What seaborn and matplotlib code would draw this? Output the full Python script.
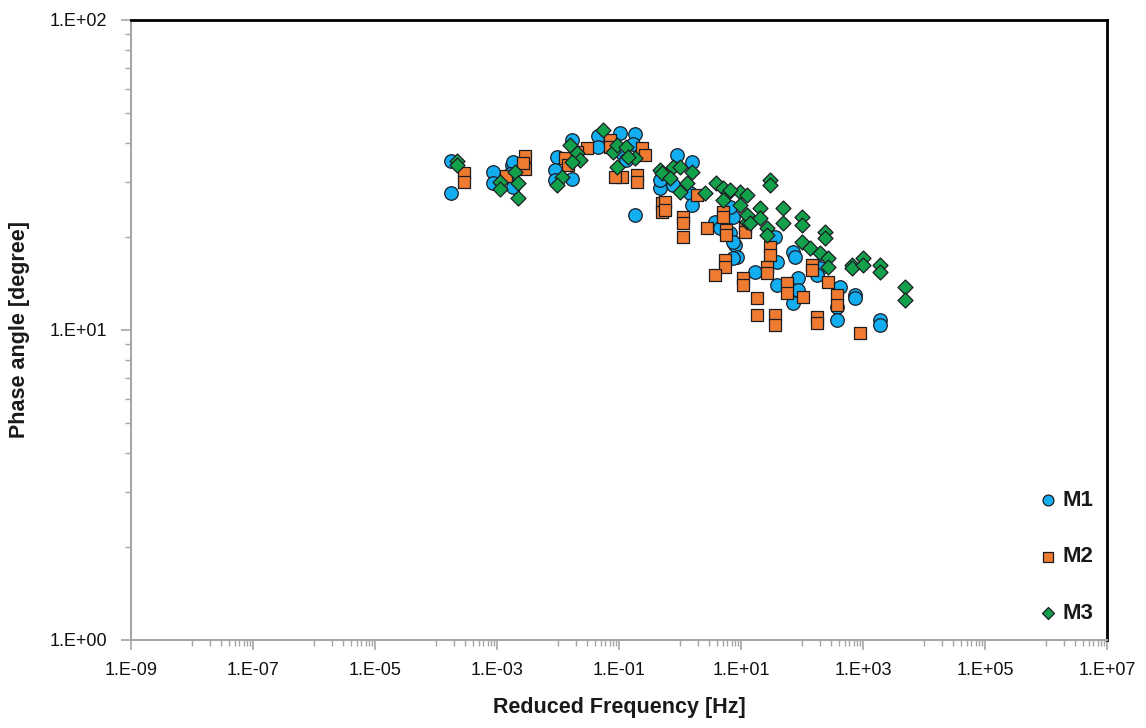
import numpy as np
import pandas as pd
import matplotlib
matplotlib.use("Agg")
import matplotlib.pyplot as plt
from matplotlib import font_manager
from matplotlib.ticker import FixedLocator, FuncFormatter, NullFormatter
import seaborn as sns

# ---------------- data ----------------
series_names = ["M1", "M2", "M3"]

m1_freq = [1.76e-4, 1.76e-4, 8.6e-4, 8.6e-4, 1.76e-3, 1.86e-3, 1.86e-3, 1.63e-3, 9.8e-3, 8.9e-3,
           8.9e-3, 1.70e-2, 1.70e-2, 4.5e-2, 4.5e-2, 0.104, 0.186, 0.170, 0.114, 0.128,
           0.186, 0.89, 1.58, 0.47, 0.76, 1.46, 1.58, 3.8, 4.5, 6.6,
           8.0, 8.6, 7.4, 7.4, 7.4, 6.6, 36, 38.9, 71, 77,
           17.0, 38.9, 85, 85, 71, 197, 178, 420, 380, 380,
           740, 1900, 1900, 740, 0.47]
m1_phase = [35.1, 27.7, 32.3, 29.8, 34.1, 34.8, 28.9, 31.9, 36.1, 32.8,
            30.5, 30.7, 41.0, 42.2, 38.9, 43.2, 42.8, 39.8, 37.2, 35.3,
            23.5, 36.7, 34.8, 28.7, 29.4, 27.7, 25.3, 22.3, 21.3, 20.6,
            18.8, 17.2, 19.2, 17.1, 23.2, 24.9, 19.9, 16.6, 17.9, 17.2,
            15.4, 14.0, 14.7, 13.5, 12.2, 15.8, 15.0, 13.8, 11.9, 10.8,
            13.0, 10.8, 10.4, 12.7, 30.5]

m2_freq = [2.9e-4, 2.9e-4, 1.43e-3, 2.93e-3, 2.93e-3, 2.67e-3, 1.30e-2, 1.46e-2, 2.99e-2, 2.05e-2,
           7.1e-2, 7.1e-2, 0.240, 0.267, 0.197, 0.197, 0.114, 8.6e-2, 0.51, 0.51,
           0.575, 0.575, 1.10, 1.10, 1.10, 1.90, 2.77, 5.0, 5.0, 5.75,
           5.75, 5.5, 5.5, 3.8, 11.6, 11.6, 29.9, 29.9, 26.7, 26.7,
           10.8, 10.8, 18.3, 18.3, 36, 36, 56.8, 56.8, 104, 146,
           146, 178, 178, 267, 380, 380, 893]
m2_phase = [32.1, 30.0, 31.4, 36.4, 33.1, 34.6, 35.9, 34.1, 38.6, 37.5,
            41.0, 38.9, 38.6, 36.7, 31.6, 30.0, 31.2, 31.2, 25.7, 24.0,
            25.9, 24.4, 23.2, 22.1, 19.9, 27.3, 21.3, 24.0, 23.2, 21.0,
            20.2, 16.8, 16.0, 15.0, 21.5, 20.7, 18.5, 17.5, 16.0, 15.3,
            14.7, 14.0, 12.7, 11.2, 11.2, 10.4, 14.2, 13.2, 12.8, 16.2,
            15.6, 11.0, 10.5, 14.3, 13.0, 12.0, 9.8]

m3_freq = [2.2e-4, 2.2e-4, 1.1e-3, 1.1e-3, 2.0e-3, 2.17e-3, 2.17e-3, 1.16e-2, 9.8e-3, 1.57e-2,
           2.05e-2, 2.30e-2, 1.70e-2, 5.5e-2, 7.9e-2, 9.4e-2, 9.4e-2, 0.128, 0.186, 0.141,
           0.47, 0.51, 0.76, 1.0, 1.58, 1.30, 1.0, 0.686, 2.57, 3.9,
           5.0, 6.1, 5.0, 9.6, 9.6, 12.6, 12.6, 6.6, 29.9, 29.9,
           12.6, 14.1, 20.5, 20.5, 26.7, 26.7, 48.9, 48.9, 100, 100,
           100, 135, 197, 238, 238, 267, 267, 661, 661, 1000,
           1000, 1900, 1900, 4890, 4890]
m3_phase = [35.1, 34.1, 30.0, 28.5, 32.3, 29.8, 26.7, 31.2, 29.4, 39.5,
            37.2, 35.3, 34.8, 44.2, 37.5, 39.5, 33.6, 38.9, 35.9, 36.1,
            32.8, 32.1, 33.6, 33.6, 32.3, 29.8, 27.9, 30.9, 27.7, 29.8,
            28.7, 27.7, 26.3, 27.9, 25.3, 27.3, 22.3, 28.3, 30.5, 29.4,
            23.5, 22.1, 24.8, 23.0, 21.3, 20.2, 24.8, 22.1, 23.2, 21.8,
            19.2, 18.4, 17.7, 20.7, 19.8, 17.1, 16.0, 16.2, 15.8, 17.1,
            16.2, 16.2, 15.4, 13.8, 12.5]

x_major_ticks = [1e-9, 1e-7, 1e-5, 1e-3, 1e-1, 1e1, 1e3, 1e5, 1e7]
y_major_ticks = [1, 10, 100]

# ---------------- styling ----------------
colors = {"M1": "#13AEEF", "M2": "#EE7B30", "M3": "#12A14A"}
markers = {"M1": "o", "M2": "s", "M3": "D"}
sizes = {"M1": 95, "M2": 72, "M3": 58}
edge = "#1c1c24"

sns.set_style("ticks")
available = {f.name for f in font_manager.fontManager.ttflist}
narrow = "Liberation Sans Narrow" if "Liberation Sans Narrow" in available else "Liberation Sans"
plt.rcParams["font.family"] = ["Liberation Sans", "DejaVu Sans"]

df = pd.concat([
    pd.DataFrame({"freq": m1_freq, "phase": m1_phase, "Series": "M1"}),
    pd.DataFrame({"freq": m2_freq, "phase": m2_phase, "Series": "M2"}),
    pd.DataFrame({"freq": m3_freq, "phase": m3_phase, "Series": "M3"}),
], ignore_index=True)

fig = plt.figure(figsize=(11.46, 7.28), dpi=100)
ax = fig.add_axes([131 / 1146, 1 - 640 / 728, 976 / 1146, 620 / 728])
ax.set_xscale("log")
ax.set_yscale("log")

for i, name in enumerate(series_names):
    sns.scatterplot(data=df[df["Series"] == name], x="freq", y="phase",
                    marker=markers[name], s=sizes[name], color=colors[name],
                    edgecolor=edge, linewidth=0.9, ax=ax, label=name,
                    zorder=3 + i)

ax.set_xlim(1e-9, 1e7)
ax.set_ylim(1, 100)

# ticks
ax.xaxis.set_major_locator(FixedLocator(x_major_ticks))
x_minor = [m * 10.0 ** e for e in range(-8, 7, 2) for m in range(1, 10)]
ax.xaxis.set_minor_locator(FixedLocator(x_minor))
ax.yaxis.set_major_locator(FixedLocator(y_major_ticks))
y_minor = [m * 10.0 ** e for e in range(0, 2) for m in range(2, 10)]
ax.yaxis.set_minor_locator(FixedLocator(y_minor))

fmt = FuncFormatter(lambda v, p: "1.E{:+03d}".format(int(round(np.log10(v)))))
ax.xaxis.set_major_formatter(fmt)
ax.yaxis.set_major_formatter(fmt)
ax.xaxis.set_minor_formatter(NullFormatter())
ax.yaxis.set_minor_formatter(NullFormatter())

grey = "#a6a6a6"
ax.tick_params(which="major", direction="out", length=7, width=1.2, color=grey,
               labelsize=13, labelcolor="#111111")
ax.tick_params(which="minor", direction="out", length=4, width=1.0, color=grey)
ax.tick_params(axis="y", which="major", pad=10)
ax.tick_params(axis="x", which="major", pad=9)

for s in ["left", "bottom"]:
    ax.spines[s].set_color(grey)
    ax.spines[s].set_linewidth(1.5)
for s in ["top", "right"]:
    ax.spines[s].set_color("black")
    ax.spines[s].set_linewidth(2)
    ax.spines[s].set_visible(True)

ax.set_xlabel("Reduced Frequency [Hz]", fontsize=15.5, fontweight="bold",
              family=[narrow, "DejaVu Sans"], labelpad=13, color="#1a1a1a")
ax.set_ylabel("Phase angle [degree]", fontsize=15.5, fontweight="bold",
              family=[narrow, "DejaVu Sans"], labelpad=14, color="#1a1a1a")

leg = ax.legend(loc="center", bbox_to_anchor=(0.957, 0.134), frameon=False,
                markerscale=0.8, handletextpad=0.15, labelspacing=1.6,
                handlelength=1.0,
                prop={"family": [narrow, "DejaVu Sans"], "weight": "bold", "size": 16})
for t in leg.get_texts():
    t.set_color("#1a1a1a")

fig.savefig("out.png", dpi=100)
